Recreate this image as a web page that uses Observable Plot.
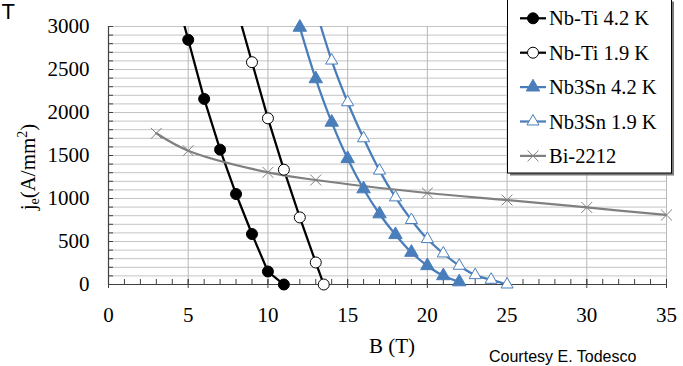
<!DOCTYPE html>
<html><head><meta charset="utf-8">
<script src="https://cdn.jsdelivr.net/npm/d3@7"></script>
<script src="https://cdn.jsdelivr.net/npm/@observablehq/plot@0.6"></script>
<style>body{margin:0;background:#fff} svg{display:block}</style>
</head><body><div id="chart"></div>
<script>
// ---- data ----
const nbti42B  = [4, 5, 6, 7, 8, 9, 10, 11];
const nbti42J  = [3530, 2845, 2158, 1568, 1052, 587, 151, 0];
const nbti19B  = [8, 9, 10, 11, 12, 13, 13.5];
const nbti19J  = [3240, 2585, 1932, 1335, 780, 256, 0];
const nb3sn42B = [12, 13, 14, 15, 16, 17, 18, 19, 20, 21, 22];
const nb3sn42J = [2990, 2391, 1886, 1463, 1111, 820, 579, 373, 218, 101, 30];
const nb3sn19B = [13, 14, 15, 16, 17, 18, 19, 20, 21, 22, 23, 24, 25];
const nb3sn19J = [3200, 2604, 2119, 1700, 1324, 1013, 750, 528, 361, 218, 109, 55, 0];
const bi2212B  = [3, 5, 10, 13, 20, 25, 30, 35];
const bi2212J  = [1758, 1556, 1304, 1215, 1064, 982, 896, 808];
const seriesNames = ["Nb-Ti 4.2 K", "Nb-Ti 1.9 K", "Nb3Sn 4.2 K", "Nb3Sn 1.9 K", "Bi-2212"];
const xTicks = [0, 5, 10, 15, 20, 25, 30, 35];
const yTicks = [0, 500, 1000, 1500, 2000, 2500, 3000];
const titleText = "T";
const xLabel = "B (T)";
const creditText = "Courtesy E. Todesco";

// ---- build ----
const mk = (B, J) => B.map((b, i) => ({B: b, j: J[i]}));
const nbti42 = mk(nbti42B, nbti42J), nbti19 = mk(nbti19B, nbti19J);
const sn42 = mk(nb3sn42B, nb3sn42J), sn19 = mk(nb3sn19B, nb3sn19J);
const bi = mk(bi2212B, bi2212J);
const inside = d => d.j <= 3000;
const BLUE = "#4a7ebb", GRAY = "#808080", BLACK = "#000";
const SERIF = "Liberation Serif";
const SANS = "Liberation Sans";
const blank = () => "";
const plain = d3.format("d");

const styles = [
  {stroke: BLACK, symbol: "circle", fill: BLACK, mstroke: BLACK, r: 5.5, sw: 1},
  {stroke: BLACK, symbol: "circle", fill: "#fff", mstroke: BLACK, r: 5.5, sw: 1},
  {stroke: BLUE, symbol: "triangle", fill: BLUE, mstroke: BLUE, r: 5, sw: 1},
  {stroke: BLUE, symbol: "triangle", fill: "#fff", mstroke: BLUE, r: 4.5, sw: 1},
  {stroke: GRAY, symbol: "times", fill: "none", mstroke: GRAY, r: 5, sw: 1}
];
const datasets = [nbti42, nbti19, sn42, sn19, bi];
const curves = ["linear", "linear", "catmull-rom", "catmull-rom", "catmull-rom"];

const marks = [
  Plot.gridY(d3.range(100, 3001, 100), {stroke: "#c4c4c4", strokeOpacity: 1, strokeWidth: 1}),
  Plot.gridX(d3.range(5, 36, 5), {stroke: "#b8b8b8", strokeOpacity: 1, strokeWidth: 1}),
  Plot.axisY({ticks: d3.range(0, 3001, 100), tickSize: 5, dx: 5, tickFormat: blank, stroke: "#404040", label: null}),
  Plot.axisX({ticks: d3.range(0, 36, 1), tickSize: 5, dy: -5, tickFormat: blank, stroke: "#404040", label: null}),
  Plot.axisX({ticks: xTicks, tickSize: 9, dy: -5, tickFormat: blank, stroke: "#404040", label: null}),
  Plot.axisY({ticks: yTicks, tickSize: 0, tickPadding: 19, fontSize: 21, fontFamily: SERIF, tickFormat: plain, fill: "#000", label: null}),
  Plot.axisX({ticks: xTicks, tickSize: 0, tickPadding: 23, fontSize: 21, fontFamily: SERIF, tickFormat: plain, fill: "#000", label: null}),
  Plot.ruleX([0], {stroke: "#404040", strokeWidth: 1.2}),
  Plot.ruleY([0], {stroke: "#404040", strokeWidth: 1.2})
];
datasets.forEach((data, i) => {
  const s = styles[i];
  marks.push(Plot.line(data, {x: "B", y: "j", stroke: s.stroke, strokeWidth: 2.25, curve: curves[i], clip: true}));
});
datasets.forEach((data, i) => {
  const s = styles[i];
  marks.push(Plot.dot(data, {filter: inside, x: "B", y: "j", symbol: () => s.symbol, r: s.r,
    fill: s.fill, stroke: s.mstroke, strokeWidth: s.sw}));
});

const svg = Plot.plot({
  width: 683, height: 366,
  marginLeft: 108, marginRight: 17, marginTop: 26, marginBottom: 82,
  x: {domain: [0, 35]},
  y: {domain: [0, 3000]},
  symbol: {type: "identity"},
  style: {fontSize: "21px", color: "#000", background: "#fff", overflow: "visible"},
  marks
});
document.getElementById("chart").appendChild(svg);
// force serif on all Plot-generated text (inline style wins over any stylesheet)
d3.select(svg).style("font-family", SERIF);
d3.select(svg).selectAll("text").style("font-family", SERIF).style("fill", "#000");

// ---- annotations ----
const g = d3.select(svg).append("g").attr("text-anchor", "start").attr("fill", "#000").attr("stroke", "none");
const txt = (x, y, s, fam, size, anchor) => g.append("text").attr("x", x).attr("y", y)
  .attr("text-anchor", anchor).style("font-family", fam).style("font-size", size + "px").style("fill", "#000").text(s);
txt(1.5, 19, titleText, SANS, 22, "start");
txt(392, 353, xLabel, SERIF, 21, "middle");
txt(489, 361.5, creditText, SANS, 16, "start");

const yl = g.append("text").attr("transform", "translate(35,167) rotate(-90)").attr("text-anchor", "middle")
  .style("font-family", SERIF).style("font-size", "21px").style("fill", "#000");
yl.append("tspan").text("j");
yl.append("tspan").style("font-size", "14px").attr("dy", 4).text("e");
yl.append("tspan").attr("dy", -4).text("(A/mm");
yl.append("tspan").style("font-size", "14px").attr("dy", -8).text("2");
yl.append("tspan").attr("dy", 8).text(")");

// legend
const lg = g.append("g");
lg.append("rect").attr("x", 510).attr("y", 1.5).attr("width", 164).attr("height", 174).attr("fill", "#7a7a7a").attr("stroke", "none");
lg.append("rect").attr("x", 507.5).attr("y", -1).attr("width", 164).attr("height", 174).attr("fill", "#fff").attr("stroke", "#000").attr("stroke-width", 1);
const symMap = {circle: d3.symbolCircle, triangle: d3.symbolTriangle, times: d3.symbolTimes};
seriesNames.forEach((name, i) => {
  const s = styles[i];
  const cy = 18.3 + i * 34.4;
  lg.append("line").attr("x1", 520).attr("x2", 546).attr("y1", cy).attr("y2", cy).attr("stroke", s.stroke).attr("stroke-width", 2.25);
  lg.append("path").attr("transform", `translate(533,${cy})`)
    .attr("d", d3.symbol(symMap[s.symbol], Math.PI * s.r * s.r)())
    .attr("fill", s.fill).attr("stroke", s.mstroke).attr("stroke-width", s.sw);
  lg.append("text").attr("x", 549).attr("y", cy + 7).attr("text-anchor", "start")
    .style("font-family", SERIF).style("font-size", "20.5px").style("fill", "#000").text(name);
});
</script>
</body></html>
